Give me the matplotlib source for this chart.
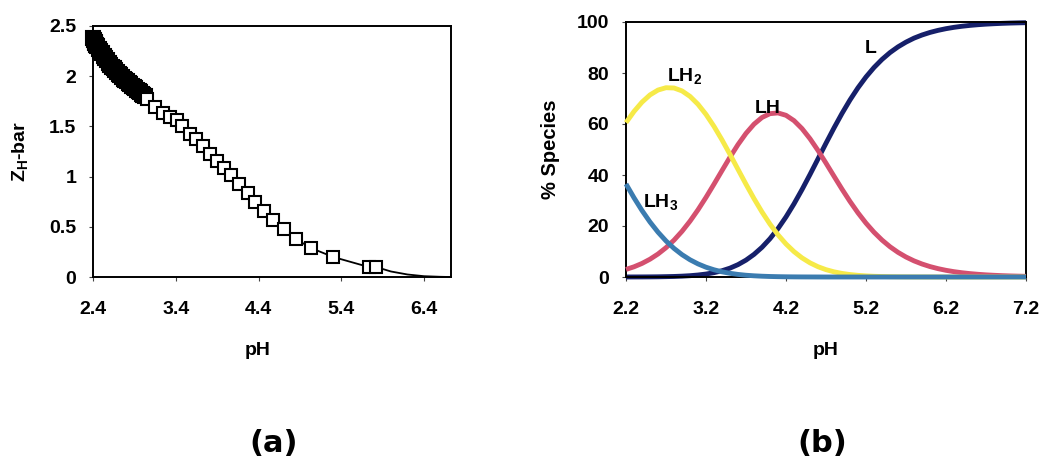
import matplotlib
matplotlib.use("Agg")
import matplotlib.pyplot as plt
import numpy as np

plt.rcParams['font.family'] = ['Liberation Sans', 'DejaVu Sans']
plt.rcParams['font.weight'] = 'bold'
plt.rcParams['mathtext.fontset'] = 'custom'
plt.rcParams['mathtext.rm'] = 'Liberation Sans:bold'
plt.rcParams['mathtext.it'] = 'Liberation Sans:bold'
plt.rcParams['mathtext.bf'] = 'Liberation Sans:bold'

# ---------------- panel (a) data ----------------
ph_dense = [2.40, 2.41, 2.42, 2.43, 2.44, 2.45, 2.47, 2.49, 2.51, 2.53, 2.55, 2.57,
            2.59, 2.61, 2.63, 2.65, 2.67, 2.69, 2.71, 2.73, 2.75, 2.77, 2.79, 2.81,
            2.83, 2.85, 2.87, 2.89, 2.91, 2.93, 2.95, 2.97, 2.99, 3.01, 3.03]
z_dense = [2.380, 2.362, 2.345, 2.328, 2.314, 2.300, 2.274, 2.251, 2.228, 2.205, 2.182, 2.158,
           2.135, 2.115, 2.096, 2.077, 2.058, 2.040, 2.023, 2.007, 1.992, 1.977, 1.962, 1.948,
           1.934, 1.920, 1.906, 1.893, 1.880, 1.866, 1.853, 1.840, 1.826, 1.813, 1.799]
ph_sparse = [3.05, 3.15, 3.25, 3.33, 3.41, 3.48, 3.57, 3.65, 3.73, 3.81, 3.90, 3.98,
             4.07, 4.17, 4.27, 4.36, 4.47, 4.58, 4.71, 4.85, 5.03, 5.30, 5.73, 5.82]
z_sparse = [1.77, 1.69, 1.63, 1.59, 1.56, 1.50, 1.42, 1.37, 1.30, 1.23, 1.16, 1.09,
            1.02, 0.93, 0.84, 0.75, 0.66, 0.57, 0.48, 0.38, 0.29, 0.20, 0.10, 0.10]
ph_tail = [6.00, 6.20, 6.40, 6.60, 6.72]
z_tail = [0.055, 0.025, 0.008, 0.002, 0.0]

xticks_a = [2.4, 3.4, 4.4, 5.4, 6.4]
xticklabels_a = ['2.4', '3.4', '4.4', '5.4', '6.4']
yticks_a = [0, 0.5, 1, 1.5, 2, 2.5]
yticklabels_a = ['0', '0.5', '1', '1.5', '2', '2.5']

# ---------------- panel (b) data ----------------
ph_b = [2.2, 2.3, 2.4, 2.5, 2.6, 2.7, 2.8, 2.9, 3.0, 3.1, 3.2, 3.3, 3.4, 3.5, 3.6, 3.7,
        3.8, 3.9, 4.0, 4.1, 4.2, 4.3, 4.4, 4.5, 4.6, 4.7, 4.8, 4.9, 5.0, 5.1, 5.2, 5.3,
        5.4, 5.5, 5.6, 5.7, 5.8, 5.9, 6.0, 6.1, 6.2, 6.3, 6.4, 6.5, 6.6, 6.7, 6.8, 6.9,
        7.0, 7.1, 7.2]
lh3 = [36.48, 31.07, 26.07, 21.56, 17.59, 14.14, 11.22, 8.77, 6.76, 5.14, 3.84, 2.83,
       2.04, 1.45, 1.01, 0.69, 0.47, 0.31, 0.20, 0.13, 0.08, 0.05, 0.03, 0.02, 0.01,
       0, 0, 0, 0, 0, 0, 0, 0, 0, 0, 0, 0, 0, 0, 0, 0, 0, 0, 0, 0, 0, 0, 0, 0, 0, 0]
lh2 = [60.54, 64.91, 68.57, 71.41, 73.31, 74.23, 74.12, 72.98, 70.83, 67.73, 63.77, 59.06,
       53.77, 48.08, 42.21, 36.37, 30.74, 25.49, 20.73, 16.54, 12.95, 9.95, 7.50, 5.55,
       4.03, 2.88, 2.03, 1.40, 0.96, 0.65, 0.43, 0.28, 0.19, 0.12, 0.08, 0.05, 0.03, 0.02,
       0.01, 0, 0, 0, 0, 0, 0, 0, 0, 0, 0, 0, 0]
lh = [2.97, 4.00, 5.32, 6.98, 9.02, 11.50, 14.45, 17.91, 21.89, 26.35, 31.23, 36.41,
      41.73, 46.99, 51.93, 56.32, 59.93, 62.56, 64.06, 64.34, 63.41, 61.32, 58.20, 54.23,
      49.63, 44.65, 39.52, 34.45, 29.62, 25.15, 21.12, 17.56, 14.49, 11.87, 9.67, 7.84,
      6.33, 5.10, 4.09, 3.28, 2.62, 2.09, 1.67, 1.33, 1.06, 0.84, 0.67, 0.53, 0.42, 0.34, 0.27]
l_sp = [0.01, 0.02, 0.03, 0.05, 0.08, 0.14, 0.21, 0.33, 0.51, 0.78, 1.16, 1.70,
        2.46, 3.48, 4.85, 6.62, 8.87, 11.65, 15.02, 18.99, 23.56, 28.68, 34.27, 40.20,
        46.32, 52.46, 58.45, 64.15, 69.43, 74.21, 78.45, 82.15, 85.32, 88.01, 90.25, 92.11,
        93.67, 94.90, 95.91, 96.72, 97.38, 97.91, 98.33, 98.67, 98.94, 99.16, 99.33, 99.47,
        99.58, 99.66, 99.73]

xticks_b = [2.2, 3.2, 4.2, 5.2, 6.2, 7.2]
xticklabels_b = ['2.2', '3.2', '4.2', '5.2', '6.2', '7.2']
yticks_b = [0, 20, 40, 60, 80, 100]
yticklabels_b = ['0', '20', '40', '60', '80', '100']

col_l = '#16206a'
col_lh = '#d4506f'
col_lh2 = '#f6ea48'
col_lh3 = '#3b7cb0'

fig = plt.figure(figsize=(10.47, 4.59), dpi=100)

def style_axes(ax, xt, xtl, yt, ytl):
    ax.set_xticks(xt)
    ax.set_xticklabels(xtl)
    ax.set_yticks(yt)
    ax.set_yticklabels(ytl)
    for s in ax.spines.values():
        s.set_linewidth(1.4)
        s.set_color('black')
    ax.tick_params(axis='x', direction='out', length=3, width=0.8, pad=14,
                   labelsize=14, color='#444444')
    ax.tick_params(axis='y', direction='out', length=3, width=0.8, pad=9,
                   labelsize=14, color='#444444')
    for lab in ax.get_xticklabels() + ax.get_yticklabels():
        lab.set_fontweight('bold')

# ---------------- panel (a) ----------------
axa = fig.add_axes([93 / 1047, 1 - 277 / 459, 358 / 1047, 251 / 459])
line_x = ph_dense + ph_sparse + ph_tail
line_y = z_dense + z_sparse + z_tail
axa.plot(line_x, line_y, color='black', lw=1.3, zorder=2, clip_on=False)
axa.plot(ph_dense, z_dense, linestyle='none', marker='s',
         ms=10.5, mfc='black', mec='black', mew=1.5, zorder=3, clip_on=False)
axa.plot(ph_sparse, z_sparse, linestyle='none', marker='s',
         ms=9, mfc='white', mec='black', mew=1.5, zorder=3, clip_on=False)
axa.set_xlim(2.4, 6.726)
axa.set_ylim(0, 2.5)
style_axes(axa, xticks_a, xticklabels_a, yticks_a, yticklabels_a)
axa.set_xlabel('pH', fontsize=14, fontweight='bold', va='top')
axa.xaxis.set_label_coords(0.46, -0.26)
axa.set_ylabel(r'Z$_{H}$-bar', fontsize=14, fontweight='bold')
axa.yaxis.set_label_coords(-0.175, 0.5)

# ---------------- panel (b) ----------------
axb = fig.add_axes([626 / 1047, 1 - 277 / 459, 400 / 1047, 255 / 459])
axb.plot(ph_b, l_sp, color=col_l, lw=3.5, zorder=2, clip_on=False, solid_capstyle='butt')
axb.plot(ph_b, lh, color=col_lh, lw=3.5, zorder=3, clip_on=False, solid_capstyle='butt')
axb.plot(ph_b, lh2, color=col_lh2, lw=3.5, zorder=4, clip_on=False, solid_capstyle='butt')
axb.plot(ph_b, lh3, color=col_lh3, lw=3.5, zorder=5, clip_on=False, solid_capstyle='butt')
axb.set_xlim(2.2, 7.2)
axb.set_ylim(0, 100)
style_axes(axb, xticks_b, xticklabels_b, yticks_b, yticklabels_b)
axb.set_xlabel('pH', fontsize=14, fontweight='bold', va='top')
axb.xaxis.set_label_coords(0.50, -0.255)
axb.set_ylabel('% Species', fontsize=14.5, fontweight='bold')
axb.yaxis.set_label_coords(-0.165, 0.5)

axb.text(2.71, 77, r'LH$_2$', fontsize=14, fontweight='bold', ha='left', va='baseline')
axb.text(3.81, 64.3, 'LH', fontsize=14, fontweight='bold', ha='left', va='baseline')
axb.text(2.41, 27.5, r'LH$_3$', fontsize=14, fontweight='bold', ha='left', va='baseline')
axb.text(5.19, 87.8, 'L', fontsize=14, fontweight='bold', ha='left', va='baseline')

# panel letters
fig.text(274 / 1047, 1 - 429 / 459, '(a)', fontsize=22, fontweight='bold',
         family='DejaVu Sans', ha='center', va='top')
fig.text(822 / 1047, 1 - 429 / 459, '(b)', fontsize=22, fontweight='bold',
         family='DejaVu Sans', ha='center', va='top')

fig.savefig('out.png', dpi=100)
